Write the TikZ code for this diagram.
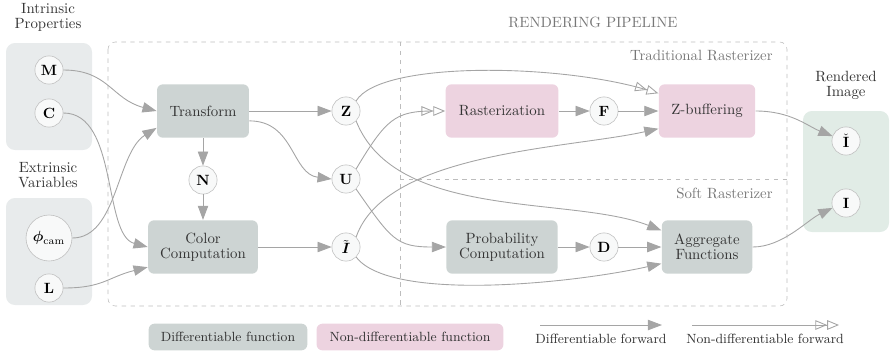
\documentclass[tikz,border=0pt]{standalone}
\usepackage{amsmath, amssymb}
\usepackage{tikz}
\usetikzlibrary{arrows.meta}
\definecolor{difffill}{HTML}{CDD4D3}
\definecolor{nondifffill}{HTML}{EDD3E0}
\definecolor{inputfill}{HTML}{E8EBEC}
\definecolor{outputfill}{HTML}{E1ECE6}
\definecolor{nodefill}{HTML}{F8F9F9}
\definecolor{nodeline}{HTML}{BFBFBF}
\definecolor{flowgray}{HTML}{A5A5A5}
\definecolor{dashgray}{HTML}{BDBDBD}
\definecolor{textgray}{HTML}{333333}
\definecolor{labelgray}{HTML}{777777}
\tikzset{
every picture/.style={line width=0.6pt},
%%%%%%%%%%  Node styles
var_node/.style={circle, draw=nodeline, fill=nodefill, thin,
                 minimum size=19pt, inner sep=1pt, text=black},
diff_func/.style={rectangle, rounded corners=4pt, fill=difffill,
                  align=center, text=textgray, minimum height=36pt, inner sep=2pt},
nondiff_func/.style={diff_func, fill=nondifffill},
legend_box/.style={rectangle, rounded corners=4pt, minimum height=18pt,
                   font=\small, text=textgray},
label_text/.style={align=center, text=textgray},
frame_text/.style={text=labelgray, anchor=east},
%%%% different line styles:
diff_fwd/.style={draw=flowgray, -{Triangle[length=9.5pt,width=7pt]}},
nondiff_fwd/.style={draw=flowgray,
   -{Triangle[open,length=8pt,width=6.5pt]Triangle[open,length=8pt,width=6.5pt]}},
pipeline/.style={draw=dashgray, dashed, thin, rounded corners=5pt},
%%%%%%% Fill styles %%%%%%%%%%%%%%%
input_group/.style={fill=inputfill, rounded corners=6pt},
output_group/.style={fill=outputfill, rounded corners=6pt}
}

\begin{document}
\begin{tikzpicture}[x=0.0237cm, y=-0.0237cm]
\useasboundingbox (0,0) rectangle (891,352);
%% input and output groups
\fill[input_group] (6,43) rectangle (92,150);
\fill[input_group] (6,198) rectangle (92,305);
\fill[output_group] (803,111) rectangle (889,232);
\node[label_text] (intrinsic) at (48,17) {Intrinsic\\[-2pt]Properties};
\node[label_text] (extrinsic) at (48,175) {Extrinsic\\[-2pt]Variables};
\node[label_text] (rendered) at (846,85) {Rendered\\[-2pt]Image};
%% the pipeline frame, split in two rasterizers
\draw[pipeline] (108,42) rectangle (787,306);
\draw[pipeline] (400,42) -- (400,306);
\draw[pipeline] (400,179) -- (787,179);
\node[text=labelgray] (pipe) at (593,22) {RENDERING PIPELINE};
\node[frame_text] (trad) at (778,56) {Traditional Rasterizer};
\node[frame_text] (soft) at (778,193) {Soft Rasterizer};
%%%%%%%%%%%%%%%%%%%%%%%%%%%%%%%%%%%%%%%%%%%%%%%%%%%%
\node[var_node] (M) at (49,70) {$\mathbf{M}$};
\node[var_node] (C) at (49,113) {$\mathbf{C}$};
\node[var_node, minimum size=31pt] (phi) at (49,238) {$\boldsymbol{\phi}_{\text{cam}}$};
\node[var_node] (L) at (49,288) {$\mathbf{L}$};
\node[diff_func, minimum width=62pt] (transform) at (203,111) {Transform};
\node[var_node] (N) at (203,180) {$\mathbf{N}$};
\node[diff_func, minimum width=74pt] (color) at (203,247) {Color\\[-2pt]Computation};
\node[var_node] (Z) at (346,111) {$\mathbf{Z}$};
\node[var_node] (U) at (346,179) {$\mathbf{U}$};
\node[var_node] (Itil) at (346,247) {$\tilde{\boldsymbol{I}}$};
\node[nondiff_func, minimum width=76pt] (raster) at (502,111) {Rasterization};
\node[var_node] (F) at (604,111) {$\mathbf{F}$};
\node[nondiff_func, minimum width=65pt] (zbuf) at (707,111) {Z-buffering};
\node[diff_func, minimum width=75pt] (prob) at (502,247) {Probability\\[-2pt]Computation};
\node[var_node] (D) at (604,247) {$\mathbf{D}$};
\node[diff_func, minimum width=61pt] (aggr) at (707,247) {Aggregate\\[-2pt]Functions};
\node[var_node] (Icheck) at (846,141) {$\check{\mathbf{I}}$};
\node[var_node] (I) at (846,203) {$\mathbf{I}$};
%% inputs into the pipeline
\draw[diff_fwd] (M.east) .. controls +(45,0) and +(-45,-12) .. (transform.west);
\draw[diff_fwd] (C.east) .. controls +(55,0) and +(-45,-12) .. (color.west);
\draw[diff_fwd] (phi.east) .. controls +(45,0) and +(-40,25) .. (transform.200);
\draw[diff_fwd] (L.east) .. controls +(40,0) and +(-40,10) .. (color.200);
%% transform and shading
\draw[diff_fwd] (transform) -- (N);
\draw[diff_fwd] (N) -- (color);
\draw[diff_fwd] (transform) -- (Z);
\draw[diff_fwd] (transform.-12) .. controls +(45,0) and +(-40,-5) .. (U.west);
\draw[diff_fwd] (color) -- (Itil);
%% traditional rasterizer
\draw[nondiff_fwd] (Z.45) .. controls +(24,-40) and +(-100,-30) .. (zbuf.160);
\draw[nondiff_fwd] (U.45) .. controls +(30,-50) and +(-50,0) .. (raster.west);
\draw[diff_fwd] (Itil.45) .. controls +(30,-85) and +(-90,20) .. (zbuf.200);
\draw[diff_fwd] (raster) -- (F);
\draw[diff_fwd] (F) -- (zbuf);
%% soft rasterizer
\draw[diff_fwd] (Z.-45) .. controls +(40,100) and +(-90,-35) .. (aggr.160);
\draw[diff_fwd] (U.-45) .. controls +(35,50) and +(-50,0) .. (prob.west);
\draw[diff_fwd] (Itil.-45) .. controls +(35,45) and +(-90,20) .. (aggr.200);
\draw[diff_fwd] (prob) -- (D);
\draw[diff_fwd] (D) -- (aggr);
%% rendered images
\draw[diff_fwd] (zbuf.east) .. controls +(35,0) and +(-25,-10) .. (Icheck.160);
\draw[diff_fwd] (aggr.east) .. controls +(30,0) and +(-25,12) .. (I.200);
%%%%%%%%%%%%%%%%%%%%%%%%%%%%%%%%%%%%%%%%%%%%%%%%%%%%
%% legend
\node[legend_box, fill=difffill, minimum width=107pt] (leg_diff) at (228,337) {Differentiable function};
\node[legend_box, fill=nondifffill, minimum width=126pt] (leg_nondiff) at (410,337) {Non-differentiable function};
\coordinate (dfwd_a) at (540,325);
\coordinate (dfwd_b) at (662,325);
\coordinate (nfwd_a) at (692,325);
\coordinate (nfwd_b) at (839,325);
\draw[diff_fwd] (dfwd_a) -- (dfwd_b);
\draw[nondiff_fwd] (nfwd_a) -- (nfwd_b);
\node[font=\small, text=textgray] (leg_dfwd) at (601,339) {Differentiable forward};
\node[font=\small, text=textgray] (leg_nfwd) at (765,339) {Non-differentiable forward};
\end{tikzpicture}
\end{document}
